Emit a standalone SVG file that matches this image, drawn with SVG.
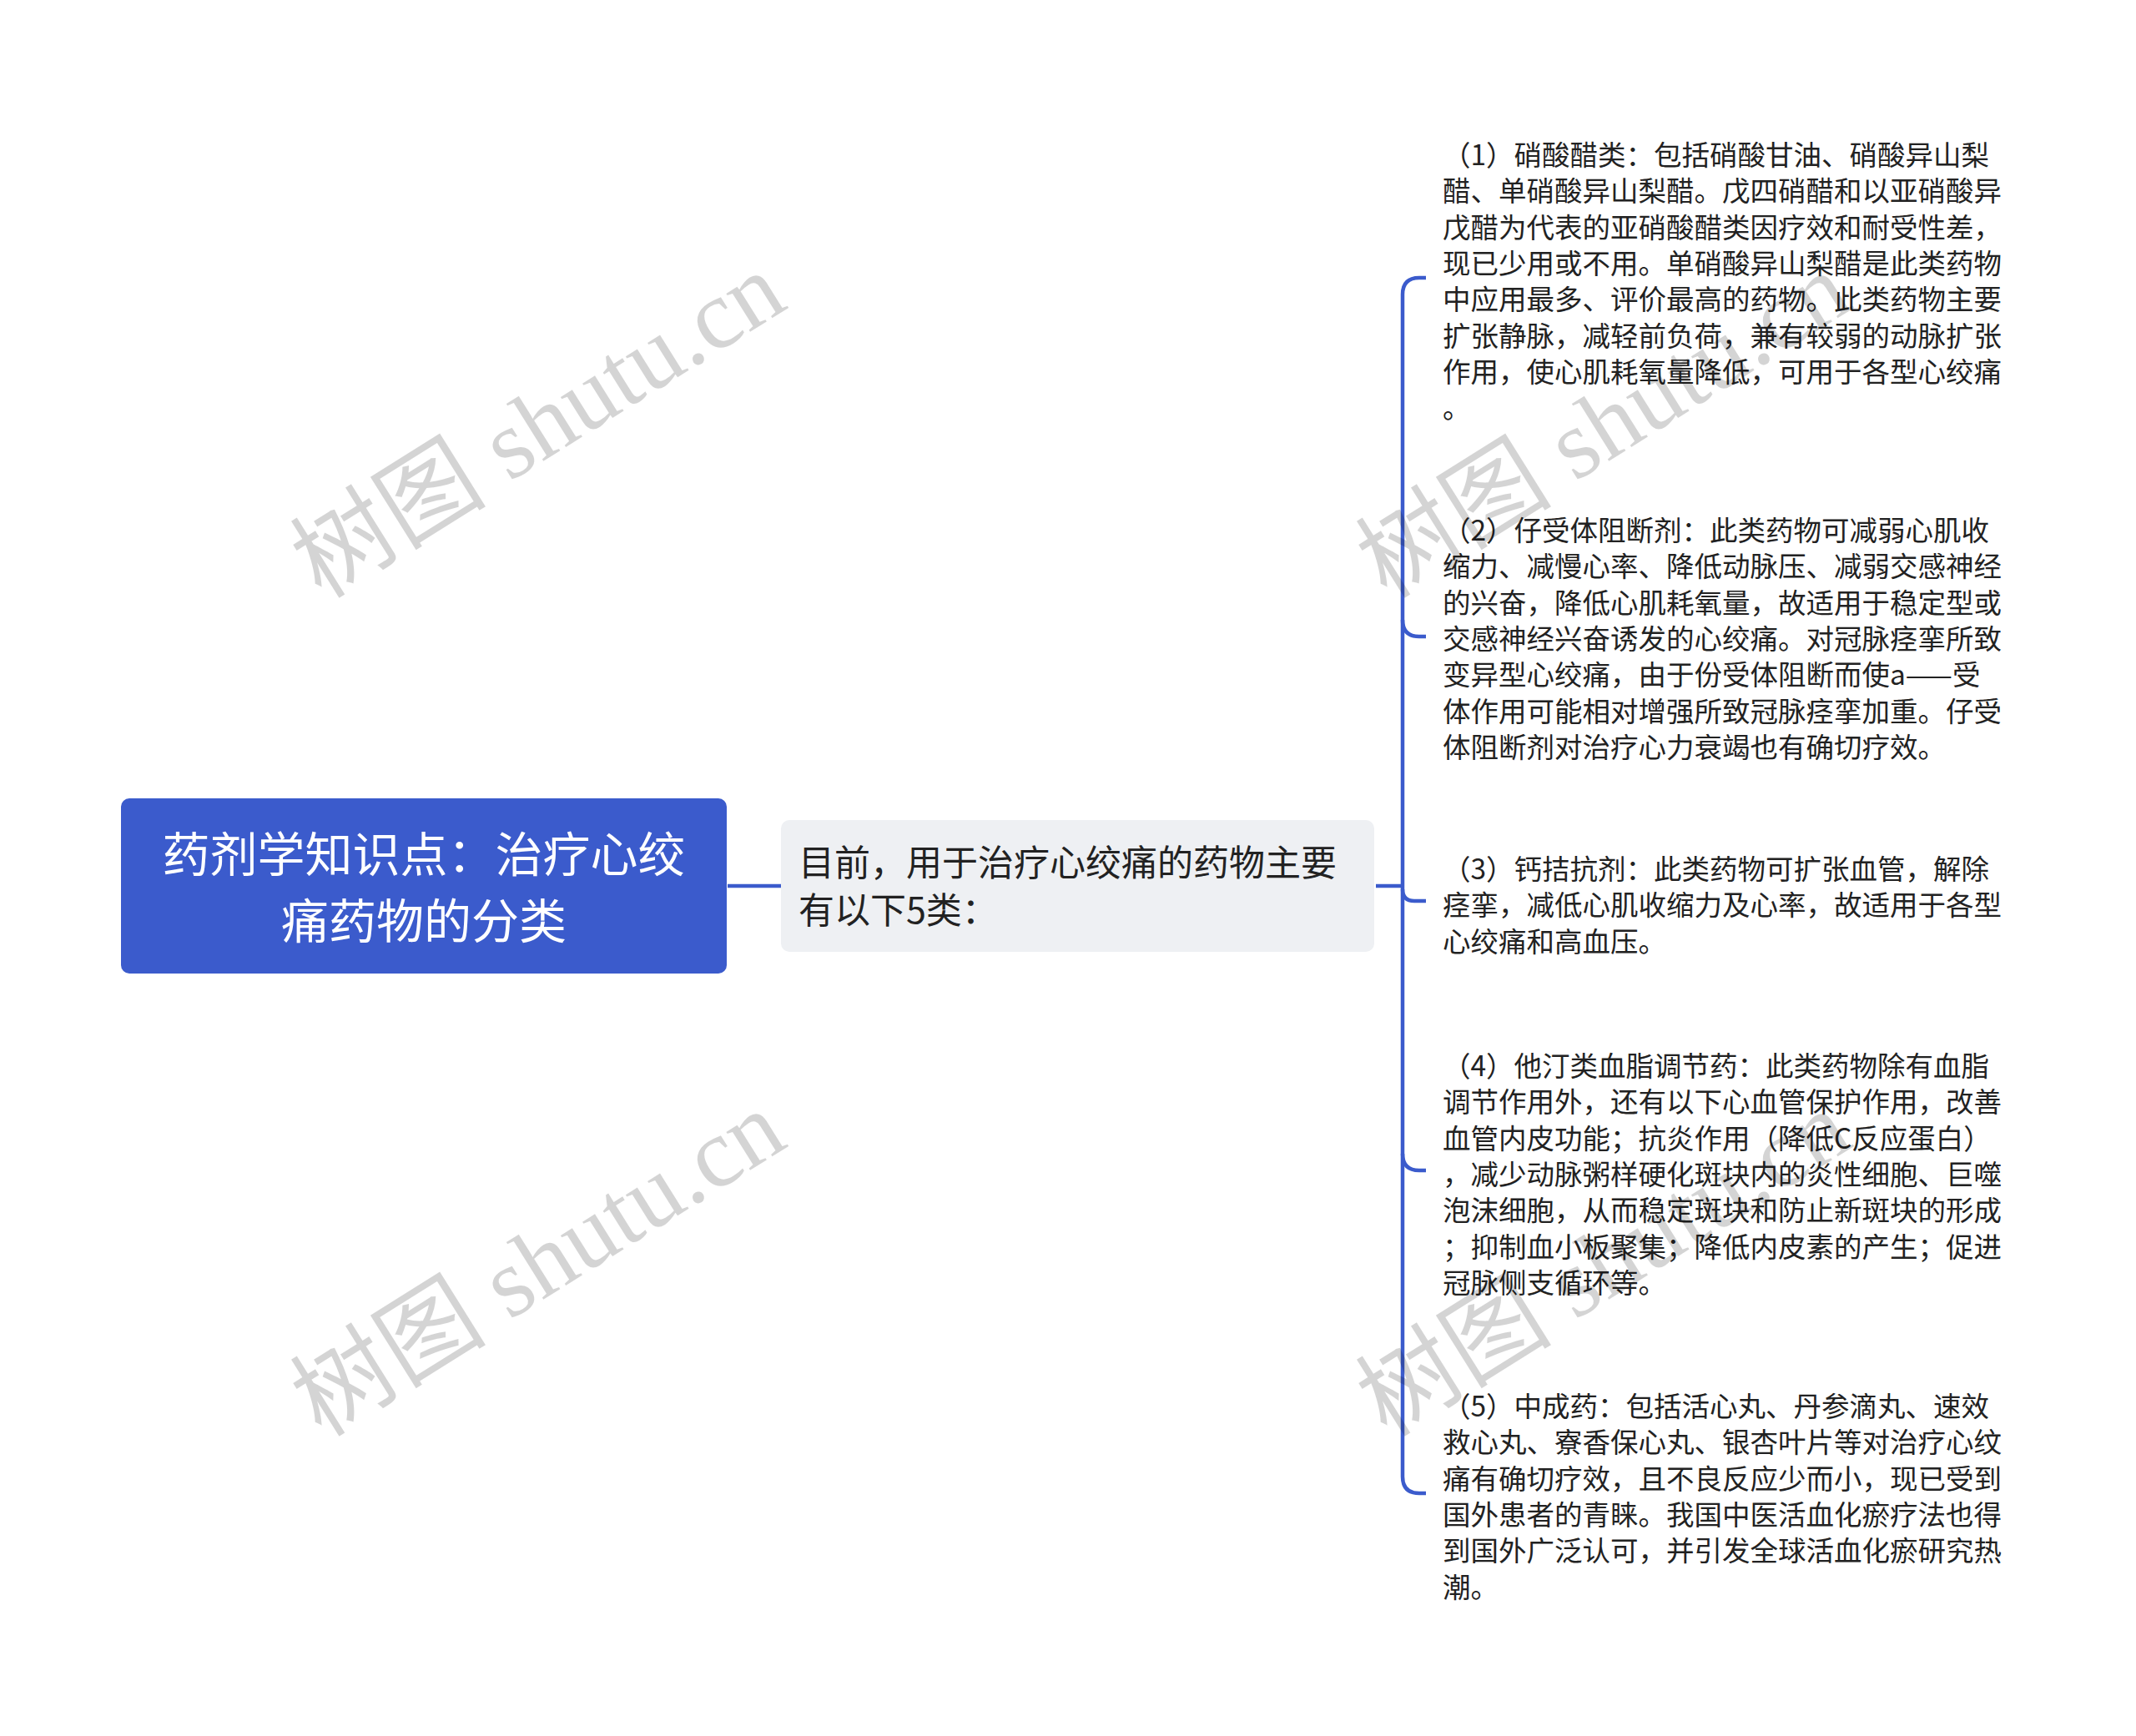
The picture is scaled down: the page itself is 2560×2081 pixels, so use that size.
<svg xmlns="http://www.w3.org/2000/svg" width="2560" height="2081" viewBox="0 0 2560 2081">
<style>
.wm{font-family:"Liberation Serif","Noto Sans CJK SC",serif;font-size:118px;fill:#000;fill-opacity:0.17;text-anchor:middle;dominant-baseline:central}
.root{fill:#3b5bcc}
.rt{font-family:"Noto Sans CJK SC",sans-serif;font-size:57px;fill:#fff;text-anchor:middle}
.mid{fill:#eef0f3}
.mt{font-family:"Noto Sans CJK SC",sans-serif;font-size:43px;fill:#222}
.lt{font-family:"Noto Sans CJK SC",sans-serif;font-size:33.5px;fill:#222}
.conn path{fill:none;stroke:#3b5bcc;stroke-width:4.5;stroke-linecap:butt}
</style>
<rect width="2560" height="2081" fill="#fff"/>
<g id="connectors" class="conn">
<path d="M872 1062 H936"/>
<path d="M1649 1062 H1681"/>
<path d="M1709 333 H1701 Q1681 333 1681 353 V1770 Q1681 1790 1701 1790 H1709"/>
<path d="M1681 743 Q1681 763 1701 763 H1709"/>
<path d="M1681 1066 Q1681 1080 1695 1080 H1709"/>
<path d="M1681 1383 Q1681 1403 1701 1403 H1709"/>
</g>
<g id="root">
<rect class="root" x="145" y="957" width="726" height="210" rx="10"/>
<text class="rt" x="508" y="1045">药剂学知识点：治疗心绞</text>
<text class="rt" x="508" y="1125">痛药物的分类</text>
</g>
<g id="middle">
<rect class="mid" x="936" y="983" width="711" height="158" rx="10"/>
<text class="mt" x="957" y="1050">目前，用于治疗心绞痛的药物主要</text>
<text class="mt" x="957" y="1107">有以下5类：</text>
</g>
<g id="item1" class="lt">
<text x="1729" y="198">（1）硝酸醋类：包括硝酸甘油、硝酸异山梨</text>
<text x="1729" y="241.3">醋、单硝酸异山梨醋。戊四硝醋和以亚硝酸异</text>
<text x="1729" y="284.6">戊醋为代表的亚硝酸醋类因疗效和耐受性差，</text>
<text x="1729" y="327.9">现已少用或不用。单硝酸异山梨醋是此类药物</text>
<text x="1729" y="371.2">中应用最多、评价最高的药物。此类药物主要</text>
<text x="1729" y="414.5">扩张静脉，减轻前负荷，兼有较弱的动脉扩张</text>
<text x="1729" y="457.8">作用，使心肌耗氧量降低，可用于各型心绞痛</text>
<text x="1729" y="501.1">。</text>
</g>
<g id="item2" class="lt">
<text x="1729" y="648">（2）仔受体阻断剂：此类药物可减弱心肌收</text>
<text x="1729" y="691.3">缩力、减慢心率、降低动脉压、减弱交感神经</text>
<text x="1729" y="734.6">的兴奋，降低心肌耗氧量，故适用于稳定型或</text>
<text x="1729" y="777.9">交感神经兴奋诱发的心绞痛。对冠脉痉挛所致</text>
<text x="1729" y="821.2">变异型心绞痛，由于份受体阻断而使a——受</text>
<text x="1729" y="864.5">体作用可能相对增强所致冠脉痉挛加重。仔受</text>
<text x="1729" y="907.8">体阻断剂对治疗心力衰竭也有确切疗效。</text>
</g>
<g id="item3" class="lt">
<text x="1729" y="1054">（3）钙拮抗剂：此类药物可扩张血管，解除</text>
<text x="1729" y="1097.3">痉挛，减低心肌收缩力及心率，故适用于各型</text>
<text x="1729" y="1140.6">心绞痛和高血压。</text>
</g>
<g id="item4" class="lt">
<text x="1729" y="1290">（4）他汀类血脂调节药：此类药物除有血脂</text>
<text x="1729" y="1333.3">调节作用外，还有以下心血管保护作用，改善</text>
<text x="1729" y="1376.6">血管内皮功能；抗炎作用（降低C反应蛋白）</text>
<text x="1729" y="1419.9">，减少动脉粥样硬化斑块内的炎性细胞、巨噬</text>
<text x="1729" y="1463.2">泡沫细胞，从而稳定斑块和防止新斑块的形成</text>
<text x="1729" y="1506.5">；抑制血小板聚集；降低内皮素的产生；促进</text>
<text x="1729" y="1549.8">冠脉侧支循环等。</text>
</g>
<g id="item5" class="lt">
<text x="1729" y="1698">（5）中成药：包括活心丸、丹参滴丸、速效</text>
<text x="1729" y="1741.3">救心丸、寮香保心丸、银杏叶片等对治疗心纹</text>
<text x="1729" y="1784.6">痛有确切疗效，且不良反应少而小，现已受到</text>
<text x="1729" y="1827.9">国外患者的青睐。我国中医活血化瘀疗法也得</text>
<text x="1729" y="1871.2">到国外广泛认可，并引发全球活血化瘀研究热</text>
<text x="1729" y="1914.5">潮。</text>
</g>
<g id="watermarks">
<text class="wm" transform="translate(645 510) rotate(-32)">树图 shutu.cn</text>
<text class="wm" transform="translate(1922 510) rotate(-32)">树图 shutu.cn</text>
<text class="wm" transform="translate(645 1515) rotate(-32)">树图 shutu.cn</text>
<text class="wm" transform="translate(1922 1515) rotate(-32)">树图 shutu.cn</text>
</g>
</svg>
